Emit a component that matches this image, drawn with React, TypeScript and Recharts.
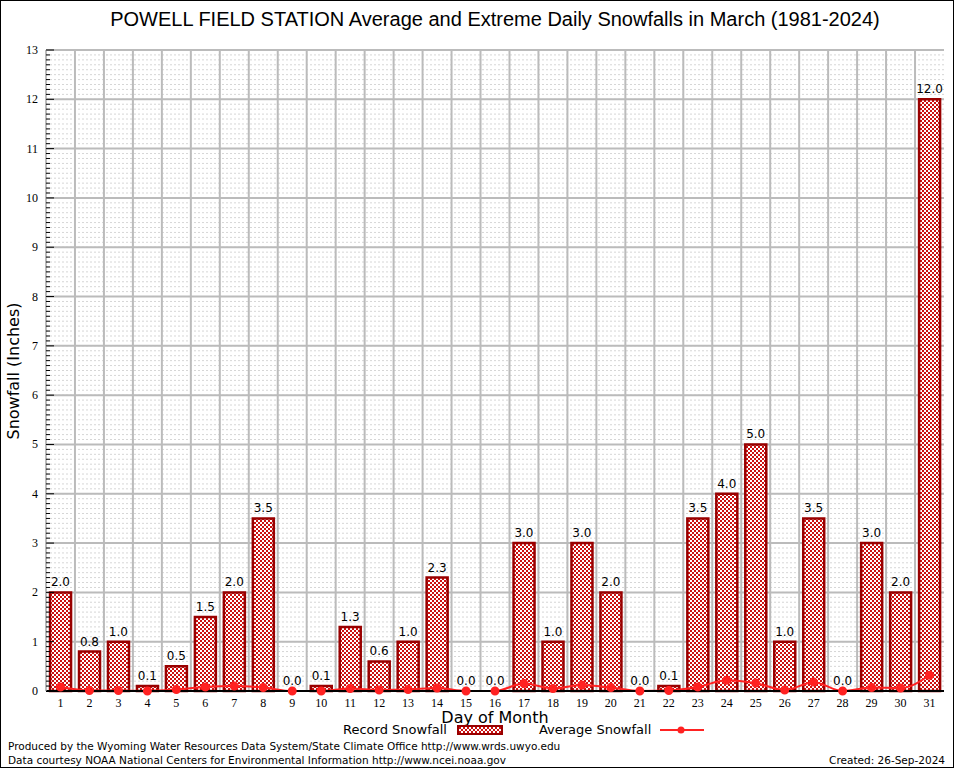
import React from 'react';
import {
  ComposedChart,
  Bar,
  Line,
  XAxis,
  YAxis,
  CartesianGrid,
  LabelList,
} from 'recharts';

const days = [
  '1', '2', '3', '4', '5', '6', '7', '8', '9', '10', '11', '12', '13', '14', '15', '16',
  '17', '18', '19', '20', '21', '22', '23', '24', '25', '26', '27', '28', '29', '30', '31',
];

const recordSnow = [
  2.0, 0.8, 1.0, 0.1, 0.5, 1.5, 2.0, 3.5, 0.0, 0.1, 1.3, 0.6, 1.0, 2.3, 0.0, 0.0,
  3.0, 1.0, 3.0, 2.0, 0.0, 0.1, 3.5, 4.0, 5.0, 1.0, 3.5, 0.0, 3.0, 2.0, 12.0,
];

const avgSnow = [
  0.08, 0.01, 0.01, 0.0, 0.03, 0.08, 0.1, 0.07, 0.0, 0.0, 0.05, 0.02, 0.03, 0.06, 0.0, 0.0,
  0.15, 0.05, 0.12, 0.07, 0.0, 0.01, 0.08, 0.22, 0.16, 0.02, 0.18, 0.0, 0.07, 0.06, 0.32,
];

const yMax = 13;
const yTicks = [0, 1, 2, 3, 4, 5, 6, 7, 8, 9, 10, 11, 12, 13];
// minor ticks every 0.1 in
const minorTicks = Array.from({ length: 131 }, (_, i) => Math.round(i * 10) / 100);

const data = days.map((d, i) => ({ day: d, record: recordSnow[i], avg: avgSnow[i] }));

const sans = 'DejaVu Sans, sans-serif';
const serif = 'Liberation Serif, serif';

const barStroke = '#990000';
const hatchRed = '#cc1111';
const lineColor = '#ff2222';

const YTick = ({ x, y, payload }: any) => {
  const v = payload.value;
  const major = Math.abs(v - Math.round(v)) < 1e-6;
  return (
    <g>
      <line x1={x} y1={y} x2={x + (major ? 8 : 4)} y2={y} stroke="#000" strokeWidth={1} />
      {major && (
        <text x={x - 8} y={y} dy={4} textAnchor="end" fontFamily={serif} fontSize={12} fill="#000">
          {Math.round(v)}
        </text>
      )}
    </g>
  );
};

const HatchPattern = ({ id }: { id: string }) => (
  <pattern id={id} width={4} height={4} patternUnits="userSpaceOnUse">
    <rect width={4} height={4} fill="#ffffff" shapeRendering="crispEdges" />
    <rect width={2} height={2} fill={hatchRed} shapeRendering="crispEdges" />
    <rect x={2} y={2} width={2} height={2} fill={hatchRed} shapeRendering="crispEdges" />
  </pattern>
);

const Swatch = () => (
  <svg width={46} height={10} style={{ display: 'block' }}>
    <defs>
      <HatchPattern id="legendHatch" />
    </defs>
    <rect x={1} y={1} width={44} height={8} fill="url(#legendHatch)" stroke={barStroke} strokeWidth={2} />
  </svg>
);

export default function App() {
  return (
    <div
      style={{
        position: 'absolute',
        left: 0,
        top: 0,
        width: 954,
        height: 768,
        border: '1px solid #000',
        boxSizing: 'border-box',
        background: '#fff',
        overflow: 'hidden',
      }}
    >
      <div
        style={{
          position: 'absolute',
          left: 0,
          width: 988,
          top: 7,
          textAlign: 'center',
          fontFamily: 'Liberation Sans, Arial, sans-serif',
          fontSize: 20,
          color: '#000',
        }}
      >
        POWELL FIELD STATION Average and Extreme Daily Snowfalls in March (1981-2024)
      </div>

      <div style={{ position: 'absolute', left: -1, top: -1 }}>
        <ComposedChart
          width={954}
          height={768}
          data={data}
          margin={{ top: 50, right: 10, bottom: 57, left: 0 }}
          barCategoryGap="14%"
        >
          <defs>
            <HatchPattern id="hatch" />
          </defs>
          <CartesianGrid
            vertical={false}
            stroke="#d6d6d6"
            strokeDasharray="2 2"
            horizontalCoordinatesGenerator={({ offset }: any) =>
              minorTicks.map((t) => offset.top + offset.height * (1 - t / yMax))
            }
          />
          <CartesianGrid
            stroke="#bbbbbb"
            strokeWidth={2}
            horizontalCoordinatesGenerator={({ offset }: any) =>
              yTicks.map((t) => offset.top + offset.height * (1 - t / yMax))
            }
            verticalCoordinatesGenerator={({ offset }: any) =>
              days.slice(1).map((_, i) => offset.left + ((i + 1) * offset.width) / days.length)
            }
          />
          <XAxis
            dataKey="day"
            interval={0}
            height={20}
            tickLine={false}
            axisLine={{ stroke: '#000', strokeWidth: 2 }}
            tick={{ fontFamily: serif, fontSize: 12, fill: '#000' }}
            tickMargin={1}
          />
          <YAxis
            width={46}
            domain={[0, yMax]}
            ticks={minorTicks}
            interval={0}
            tickLine={false}
            tickSize={0}
            tickMargin={0}
            axisLine={{ stroke: '#bbbbbb', strokeWidth: 2 }}
            tick={<YTick />}
          />
          <YAxis
            yAxisId="right"
            orientation="right"
            width={0}
            domain={[0, yMax]}
            ticks={yTicks}
            tick={false}
            tickLine={false}
            axisLine={{ stroke: '#000', strokeWidth: 2 }}
          />
          <Bar
            dataKey="record"
            fill="url(#hatch)"
            stroke={barStroke}
            strokeWidth={2.5}
            isAnimationActive={false}
          />
          <Line
            dataKey="record"
            stroke="none"
            dot={false}
            activeDot={false}
            legendType="none"
            isAnimationActive={false}
          >
            <LabelList
              dataKey="record"
              position="top"
              offset={6}
              formatter={(v: any) => Number(v).toFixed(1)}
              style={{ fontFamily: sans, fontSize: 12, fill: '#000' }}
            />
          </Line>
          <Line
            dataKey="avg"
            type="monotone"
            stroke={lineColor}
            strokeWidth={2}
            dot={{ r: 3.5, fill: lineColor, stroke: lineColor }}
            activeDot={false}
            isAnimationActive={false}
          />
        </ComposedChart>
      </div>

      <div style={{ position: 'absolute', left: 2, top: 370, width: 0, height: 0 }}>
        <div
          style={{
            position: 'absolute',
            transform: 'translate(-50%, -50%) rotate(-90deg)',
            left: 10,
            top: 0,
            whiteSpace: 'nowrap',
            fontFamily: sans,
            fontSize: 16,
          }}
        >
          Snowfall (Inches)
        </div>
      </div>

      <div
        style={{
          position: 'absolute',
          left: 0,
          width: 988,
          top: 709,
          textAlign: 'center',
          fontFamily: sans,
          fontSize: 16,
          lineHeight: '16px',
        }}
      >
        Day of Month
      </div>

      <div
        style={{
          position: 'absolute',
          top: 721,
          left: 342,
          display: 'flex',
          alignItems: 'center',
          fontFamily: sans,
          fontSize: 13,
          lineHeight: '15px',
          whiteSpace: 'nowrap',
        }}
      >
        <span>Record Snowfall</span>
        <span style={{ marginLeft: 10 }}>
          <Swatch />
        </span>
        <span style={{ marginLeft: 36 }}>Average Snowfall</span>
        <svg width={46} height={10} style={{ marginLeft: 8, display: 'block' }}>
          <line x1={1} y1={5} x2={45} y2={5} stroke={lineColor} strokeWidth={2} />
          <circle cx={22} cy={5} r={3.5} fill={lineColor} />
        </svg>
      </div>

      <div
        style={{
          position: 'absolute',
          left: 7,
          top: 738,
          fontFamily: sans,
          fontSize: 10.5,
          lineHeight: '14px',
          whiteSpace: 'nowrap',
        }}
      >
        <div>Produced by the Wyoming Water Resources Data System/State Climate Office http://www.wrds.uwyo.edu</div>
        <div>Data courtesy NOAA National Centers for Environmental Information http://www.ncei.noaa.gov</div>
      </div>
      <div
        style={{
          position: 'absolute',
          right: 8,
          top: 752,
          fontFamily: sans,
          fontSize: 10.5,
          lineHeight: '14px',
          whiteSpace: 'nowrap',
        }}
      >
        Created: 26-Sep-2024
      </div>
    </div>
  );
}
